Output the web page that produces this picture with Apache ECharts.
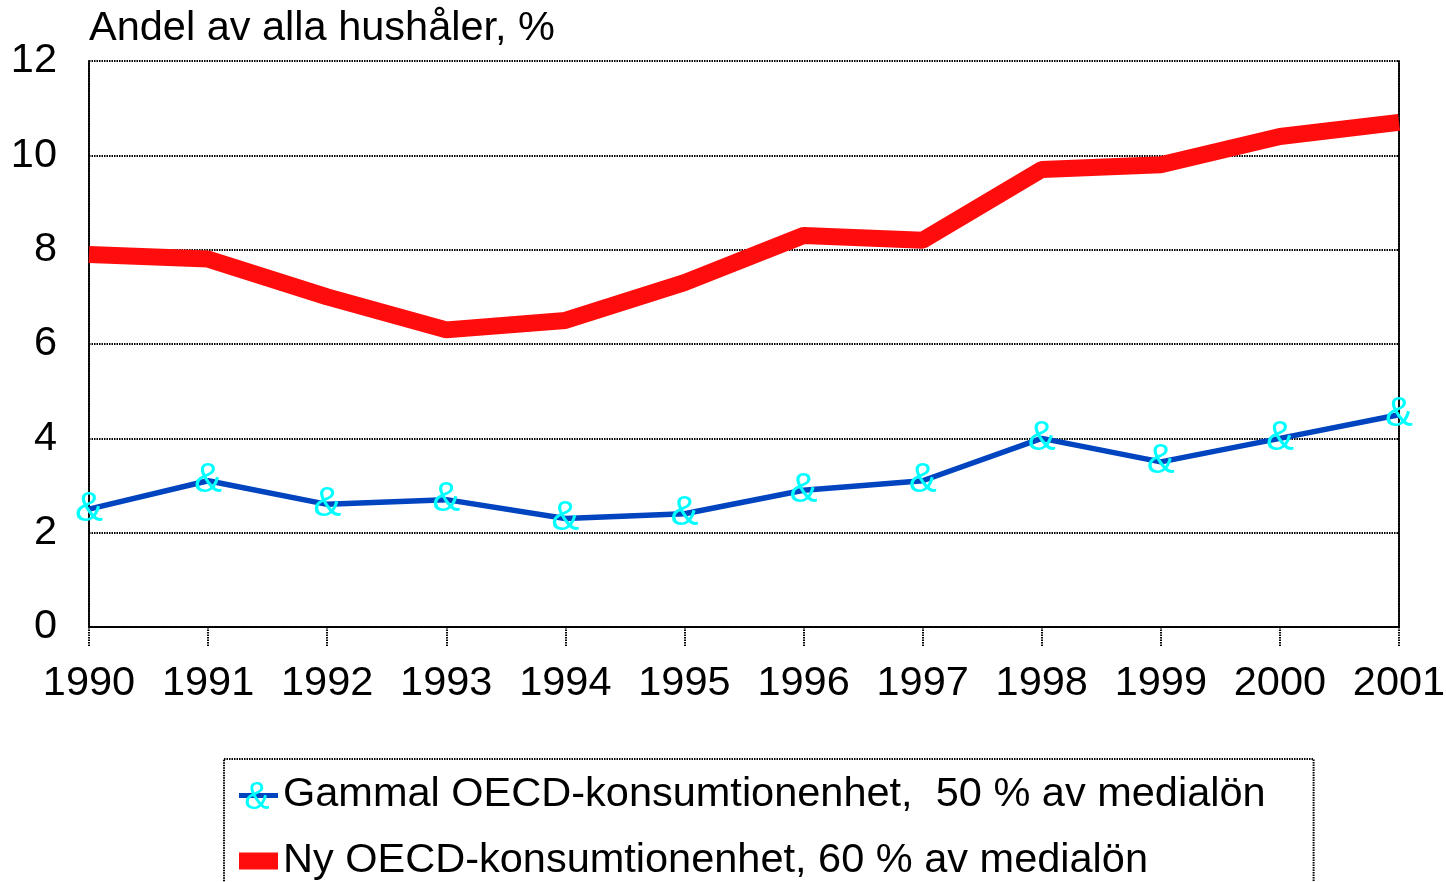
<!DOCTYPE html>
<html>
<head>
<meta charset="utf-8">
<script src="https://cdn.jsdelivr.net/npm/echarts@6/dist/echarts.min.js"></script>
<style>
  html, body { margin: 0; padding: 0; background: #fff; }
  #chart { width: 1446px; height: 882px; }
</style>
</head>
<body>
<div id="chart"></div>
<script>
const years = ['1990', '1991', '1992', '1993', '1994', '1995', '1996', '1997', '1998', '1999', '2000', '2001']
const gammal50 = [2.5, 3.1, 2.6, 2.7, 2.3, 2.4, 2.9, 3.1, 4.0, 3.5, 4.0, 4.5]
const ny60 = [7.9, 7.8, 7.0, 6.3, 6.5, 7.3, 8.3, 8.2, 9.7, 9.8, 10.4, 10.7]

const titleText = 'Andel av alla hushåler, %'
const nameGammal = 'Gammal OECD-konsumtionenhet,  50 % av medialön'
const nameNy = 'Ny OECD-konsumtionenhet, 60 % av medialön'

const FONT = '"Liberation Sans", Arial, sans-serif'
const FS = 41.5
const dotted = { color: '#000', width: 2, type: [1.5, 1] }

// legend icon for the old series: blue line with the cyan '&' marker on top
const gammalIcon = 'image://data:image/svg+xml;charset=utf-8,' + encodeURIComponent(
  "<svg xmlns='http://www.w3.org/2000/svg' width='39' height='34'>" +
  "<rect x='0' y='15' width='39' height='5' fill='#0044C0'/>" +
  "<text x='18' y='31' font-size='38' fill='#00FFFF' text-anchor='middle' font-family='Liberation Sans Narrow, Liberation Sans'>&amp;</text>" +
  "</svg>")

const chart = echarts.init(document.getElementById('chart'))

chart.setOption({
  animation: false,
  textStyle: { fontFamily: FONT },
  title: {
    text: titleText,
    left: 84,
    top: 3,
    textStyle: { fontSize: FS, fontWeight: 'normal', color: '#000', fontFamily: FONT }
  },
  grid: { left: 89, right: 47, top: 61, bottom: 255, containLabel: false, outerBoundsMode: 'none' },
  legend: {
    orient: 'vertical',
    left: 224,
    top: 759,
    height: 200,
    padding: [14, 48, 60, 15],
    itemGap: 22,
    itemWidth: 39,
    itemHeight: 34,
    borderColor: '#000',
    borderWidth: 2,
    borderType: [1.5, 1],
    textStyle: { fontSize: FS, color: '#000', fontFamily: FONT, lineHeight: 44 },
    data: [
      { name: nameGammal, icon: gammalIcon },
      { name: nameNy, icon: 'path://M0,0 L39,0 L39,17 L0,17 Z', itemStyle: { color: '#FF0D0D' } }
    ]
  },
  xAxis: {
    type: 'category',
    data: years,
    boundaryGap: false,
    axisLine: { lineStyle: dotted },
    axisTick: { show: true, interval: 0, length: 20, lineStyle: dotted },
    axisLabel: { interval: 0, hideOverlap: false, fontSize: FS, color: '#000', margin: 36, fontFamily: FONT },
    splitLine: { show: false }
  },
  yAxis: [
    {
      type: 'value',
      min: 0,
      max: 12,
      interval: 2,
      axisLine: { show: true, lineStyle: dotted },
      axisTick: { show: false },
      axisLabel: { fontSize: FS, color: '#000', margin: 32, fontFamily: FONT },
      splitLine: { show: true, lineStyle: dotted }
    },
    {
      type: 'value',
      position: 'right',
      min: 0,
      max: 12,
      interval: 2,
      axisLine: { show: true, lineStyle: dotted },
      axisTick: { show: false },
      axisLabel: { show: false },
      splitLine: { show: false }
    }
  ],
  series: [
    {
      name: nameNy,
      type: 'line',
      data: ny60,
      symbol: 'none',
      lineStyle: { color: '#FF0D0D', width: 17 },
      itemStyle: { color: '#FF0D0D' },
      z: 2
    },
    {
      name: nameGammal,
      type: 'line',
      data: gammal50,
      symbol: 'circle',
      symbolSize: 1,
      itemStyle: { color: '#0044C0' },
      lineStyle: { color: '#0044C0', width: 5.5 },
      label: {
        show: true,
        position: 'inside',
        formatter: '&',
        color: '#00FFFF',
        fontSize: 42,
        fontFamily: '"Liberation Sans Narrow", "Liberation Sans", sans-serif'
      },
      z: 3
    }
  ]
})
</script>
</body>
</html>
